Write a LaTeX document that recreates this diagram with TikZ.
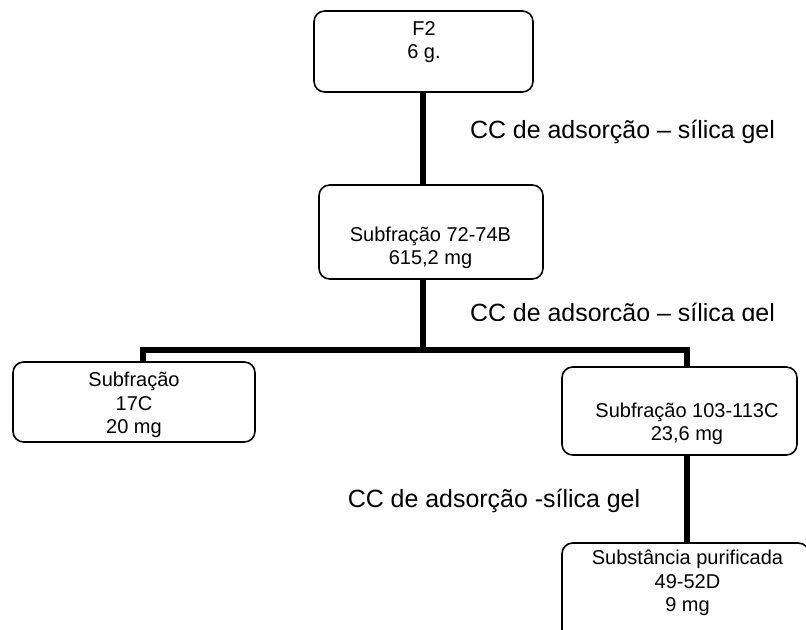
\documentclass[tikz,border=0pt]{standalone}
\usepackage{fontspec}
\setmainfont{Liberation Sans}
\usetikzlibrary{fit}

\tikzset{
  box/.style={draw, rounded corners=8pt, line width=1.2pt, inner sep=0pt},
  boxtext/.style={align=center, inner sep=0pt, font=\fontsize{15}{17.5}\selectfont},
  sidetext/.style={anchor=base, inner sep=0pt, font=\fontsize{18.7}{22}\selectfont},
  link/.style={line width=5pt}
}

\begin{document}
\begin{tikzpicture}[x=0.75pt, y=-0.75pt]
\useasboundingbox (0,0) rectangle (806,629);
\clip (0,0) rectangle (806,629);

\node[box, fit={(314,11) (533,92)}] (f2) {};
\node[box, fit={(319,185) (543,279)}] (sub72) {};
\node[box, fit={(13,362) (255,442)}] (sub17) {};
\node[box, fit={(562,367) (797,455)}] (sub103) {};
\node[box, fit={(562,543) (809,642)}] (subst) {};

\node[boxtext] (f2txt) at (424,42) {F2\\6 g.};
\node[boxtext] (sub72txt) at (430.5,248) {Subfração 72-74B\\615,2 mg};
\node[boxtext] (sub17txt) at (134,405) {Subfração\\17C\\20 mg};
\node[boxtext] (sub103txt) at (687,424) {Subfração 103-113C\\23,6 mg};
\node[boxtext] (substtxt) at (687.5,583) {Substância purificada\\49-52D\\9 mg};

\coordinate (trunk) at (423,350);
\coordinate (jl) at (143,350);
\coordinate (jr) at (687,350);

\draw[link] (trunk |- f2.south) -- (trunk |- sub72.north);
\draw[link] (trunk |- sub72.south) -- (trunk);
\draw[link] (jl |- sub17.north) -- (jl) -- (jr) -- (jr |- sub103.north);
\draw[link] (jr |- sub103.south) -- (jr |- subst.north);

\node[sidetext] (cc1) at (622.5,138) {CC de adsorção – sílica gel};
\begin{scope}
  \clip (0,0) rectangle (806,320);
  \node[sidetext] (cc2) at (622.5,321) {CC de adsorção – sílica gel};
\end{scope}
\node[sidetext] (cc3) at (494,507) {CC de adsorção -sílica gel};

\end{tikzpicture}
\end{document}
